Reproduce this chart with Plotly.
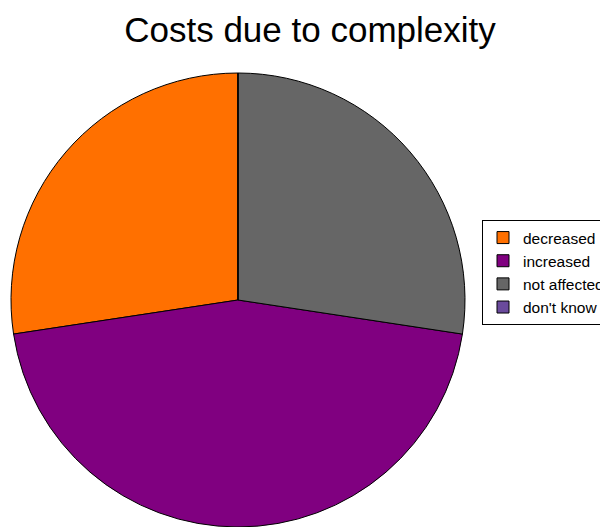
import plotly.graph_objects as go

labels = ["decreased", "increased", "not affected", "don't know"]
values = [20, 33, 20, 0]
colors = ["#ff7000", "#800080", "#666666", "#6a4a9c"]

W, H = 600, 527

# counterclockwise from 12 o'clock: plotly's ccw mode starts at rotation + first slice,
# so offset the rotation by the first slice's angle
first_angle = values[0] / sum(values) * 360

fig = go.Figure(go.Pie(
    labels=labels,
    values=values,
    sort=False,
    direction="counterclockwise",
    rotation=-first_angle,
    textinfo="none",
    marker=dict(colors=colors, line=dict(color="#000000", width=1)),
    domain=dict(x=[10 / W, 466 / W], y=[0, 454 / H]),
))

fig.update_layout(
    width=W, height=H,
    margin=dict(l=0, r=0, t=0, b=0, autoexpand=False),
    paper_bgcolor="white",
    plot_bgcolor="white",
    font=dict(family="Liberation Sans, Arial, sans-serif", color="#000000"),
    title=dict(text="Costs due to complexity", x=310 / W, xanchor="center",
               y=1 - 42 / H, yanchor="bottom", yref="paper",
               font=dict(size=35, color="#000000")),
    legend=dict(x=482 / W, xanchor="left", y=1 - 220 / H, yanchor="top",
                bordercolor="#000000", borderwidth=1, bgcolor="white",
                font=dict(size=15.5), traceorder="normal",
                itemwidth=30),
    showlegend=True,
)

fig.write_html("out.html")
